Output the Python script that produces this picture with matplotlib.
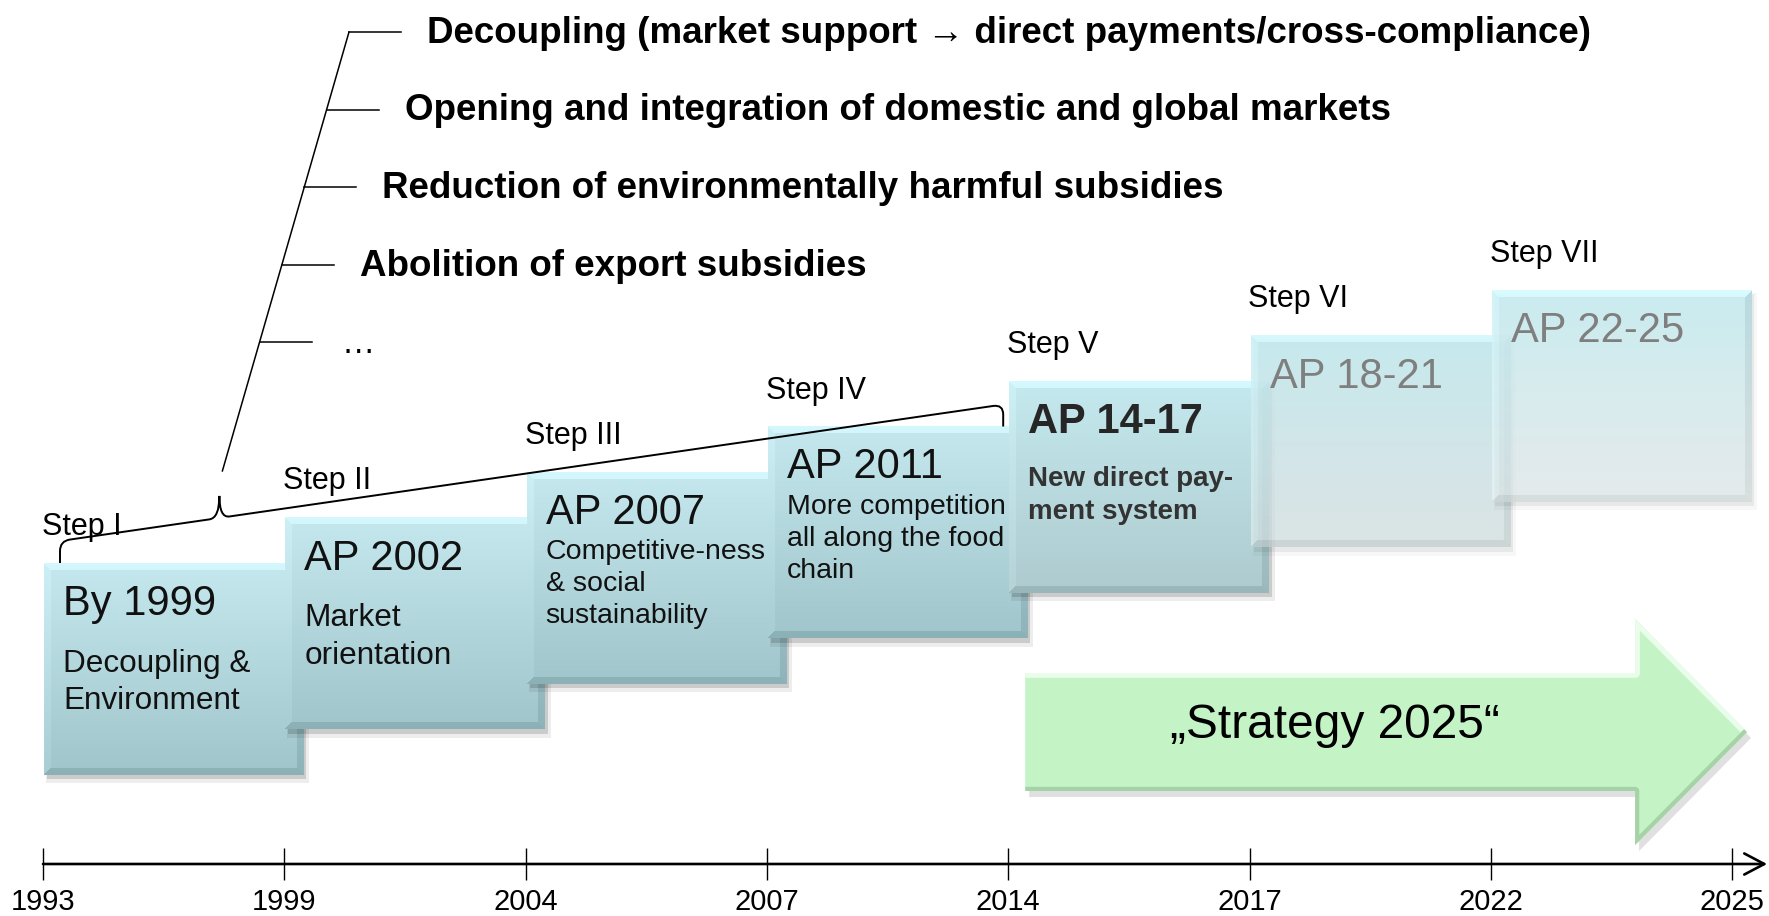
import numpy as np
import matplotlib.pyplot as plt
from matplotlib.patches import Polygon, Rectangle, PathPatch
from matplotlib.path import Path
from matplotlib.colors import to_rgb

plt.rcParams['font.family'] = ['Liberation Sans', 'DejaVu Sans']

# ---- content -------------------------------------------------------------
years = ["1993", "1999", "2004", "2007", "2014", "2017", "2022", "2025"]
steps = ["Step I", "Step II", "Step III", "Step IV", "Step V", "Step VI", "Step VII"]
titles = ["By 1999", "AP 2002", "AP 2007", "AP 2011", "AP 14-17", "AP 18-21", "AP 22-25"]
descriptions = [
    ["Decoupling &", "Environment"],
    ["Market", "orientation"],
    ["Competitive-ness", "& social", "sustainability"],
    ["More competition", "all along the food", "chain"],
    ["New direct pay-", "ment system"],
    [],
    [],
]
goals = [
    "Decoupling (market support \u2192 direct payments/cross-compliance)",
    "Opening and integration of domestic and global markets",
    "Reduction of environmentally harmful subsidies",
    "Abolition of export subsidies",
    "\u2026",
]
strategy_label = "\u201eStrategy 2025\u201c"

# ---- layout (pixels, y grows downward) ------------------------------------
W, H = 1769, 916
AXIS_Y = 864
X0, DX = 43, 241.3
BOX_W, BOX_H = DX + 18, 212
TOP0, RISE = 563, 45.5

fig = plt.figure(figsize=(W / 100, H / 100), dpi=100)
ax = fig.add_axes([0, 0, 1, 1])

xt = X0 + DX * np.arange(len(years))
n_box = len(titles)
box_left = xt[:n_box] + 1
box_top = TOP0 - RISE * np.arange(n_box)

# box colours: (top, bottom, alpha top, alpha bottom)
box_fill = [("#c4e8ee", "#a0c5cb", 1, 1)] * 4 + [
    ("#c4e9ee", "#aecbcf", 1, 1),
    ("#c3e9ee", "#d6e3e5", 0.92, 0.72),
    ("#c6ecf1", "#e3edee", 0.92, 0.68),
]
title_col = ["#111111"] * 4 + ["#262626", "#7f7f7f", "#7f7f7f"]
# (fontsize, first baseline below top, line spacing, weight, colour)
desc_style = [
    (22.7, 109, 37, "normal", "#111111"),
    (22.7, 109, 37, "normal", "#111111"),
    (20.5, 87, 32, "normal", "#111111"),
    (20.5, 87, 32, "normal", "#111111"),
    (20, 105, 33, "bold", "#333333"),
    (20, 105, 33, "normal", "#333333"),
    (20, 105, 33, "normal", "#333333"),
]


def box_image(h, w, c_top, c_bot, a_top, a_bot, bevel=7):
    h, w = int(round(h)), int(round(w))
    t = np.linspace(0, 1, h)[:, None]
    rgb = (1 - t)[..., None] * np.array(to_rgb(c_top)) + t[..., None] * np.array(to_rgb(c_bot))
    rgb = np.repeat(rgb, w, axis=1)
    alpha = ((1 - t) * a_top + t * a_bot) * np.ones((1, w))
    r = np.arange(h)[:, None] * np.ones((1, w))
    c = np.ones((h, 1)) * np.arange(w)[None, :]
    d = np.stack([r, h - 1 - r, c, w - 1 - c])
    nearest = d.argmin(0)
    shade = np.array([0.06, -0.08, 0.03, -0.07])[nearest] * (d.min(0) < bevel)
    rgb = np.clip(rgb + shade[..., None], 0, 1)
    return np.dstack([rgb, alpha])


for i in range(n_box):
    l, t = box_left[i], box_top[i]
    z = 3 + 2 * i
    c_top, c_bot, a_top, a_bot = box_fill[i]
    sh = 0.14 if a_bot == 1 else 0.06
    ax.add_patch(Rectangle((l + 2, t + 3), BOX_W + 4, BOX_H + 5, fc="black", ec="none",
                           alpha=sh * 0.5, zorder=z - 0.6))
    ax.add_patch(Rectangle((l + 3, t + 4), BOX_W, BOX_H, fc="black", ec="none",
                           alpha=sh, zorder=z - 0.5))
    ax.imshow(box_image(BOX_H, BOX_W, c_top, c_bot, a_top, a_bot),
              extent=(l, l + BOX_W, t + BOX_H, t), origin="upper",
              interpolation="bilinear", aspect="auto", zorder=z)
    ax.text(l + 19, t + 52, titles[i], fontsize=30, color=title_col[i],
            fontweight="bold" if i == 4 else "normal", va="baseline", zorder=z + 1)
    fs, off, sp, wt, col = desc_style[i]
    for k, line in enumerate(descriptions[i]):
        ax.text(l + 19, t + off + sp * k, line, fontsize=fs, fontweight=wt, color=col,
                va="baseline", zorder=z + 1)
    ax.text(l - 2, t - 28, steps[i], fontsize=22, color="black", va="baseline", zorder=z + 1)

# ---- brace over steps I-IV ------------------------------------------------
p0 = (box_left[0] + 16, box_top[0])
p1 = (box_left[3] + BOX_W - 24, box_top[3])
L = p1[0] - p0[0]
slope = (p1[1] - p0[1]) / L
bh, br, cusp = 22, 10, 0.169 * L


def P(u, v):
    return (p0[0] + u, p0[1] + slope * u - v)


verts = [P(0, 0), P(0, bh - br), P(0, bh), P(br, bh), P(cusp - br, bh),
         P(cusp, bh), P(cusp, 2 * bh), P(cusp, bh), P(cusp + br, bh),
         P(L - br, bh), P(L, bh), P(L, bh - br), P(L, 0)]
codes = [Path.MOVETO, Path.LINETO, Path.CURVE3, Path.CURVE3, Path.LINETO,
         Path.CURVE3, Path.CURVE3, Path.CURVE3, Path.CURVE3,
         Path.LINETO, Path.CURVE3, Path.CURVE3, Path.LINETO]
ax.add_patch(PathPatch(Path(verts, codes), fc="none", ec="black", lw=1.4, zorder=20))

# ---- goals bracket ----------------------------------------------------------
cx, cy = P(cusp, 2 * bh)
bot = (cx + 3, cy - 25)
top = (349, 32)
GOAL_DY, TICK_LEN = 77.5, 52
ax.plot([bot[0], top[0]], [bot[1], top[1]], color="black", lw=1.1, zorder=20)
for k, goal in enumerate(goals):
    gy = top[1] + GOAL_DY * k
    gx = bot[0] + (top[0] - bot[0]) * (bot[1] - gy) / (bot[1] - top[1])
    ax.plot([gx, gx + TICK_LEN], [gy, gy], color="black", lw=1.1, zorder=20)
    is_more = goal == "\u2026"
    ax.text(gx + TICK_LEN + (30 if is_more else 26), gy + 11, goal,
            fontsize=24 if is_more else 26.5,
            fontweight="normal" if is_more else "bold",
            color="black", va="baseline", zorder=20)

# ---- "Strategy 2025" arrow ---------------------------------------------------
a_start, a_tip = xt[4] + 17, xt[7] + 15
a_cy, body_half, head_half, head_len = 732, 59, 113, 112
hb = a_tip - head_len
arrow_xy = [(a_start, a_cy - body_half), (hb, a_cy - body_half), (hb, a_cy - head_half),
            (a_tip, a_cy), (hb, a_cy + head_half), (hb, a_cy + body_half),
            (a_start, a_cy + body_half)]
ax.add_patch(Polygon([(x + 4, y + 6) for x, y in arrow_xy], closed=True, fc="black",
                     ec="none", alpha=0.12, zorder=1))
green = Polygon(arrow_xy, closed=True, fc="#c4f4c6", ec="none", zorder=2)
ax.add_patch(green)
hl, = ax.plot([a_start, hb, hb, a_tip], [a_cy - body_half, a_cy - body_half,
                                          a_cy - head_half, a_cy],
              color="#eafcea", lw=7, zorder=2.1, solid_capstyle="butt")
hl.set_clip_path(green)
dk, = ax.plot([a_start, hb, hb, a_tip], [a_cy + body_half, a_cy + body_half,
                                          a_cy + head_half, a_cy],
              color="#a6d2a8", lw=6, zorder=2.1, solid_capstyle="butt")
dk.set_clip_path(green)
ax.text((a_start + hb) / 2 + 5, a_cy - 6, strategy_label, fontsize=34.5, color="black",
        ha="center", va="center", zorder=3)

# ---- timeline ----------------------------------------------------------------
ax.annotate("", xy=(xt[-1] + 35, AXIS_Y), xytext=(xt[0], AXIS_Y),
            arrowprops=dict(arrowstyle="->,head_length=0.72,head_width=0.38",
                            mutation_scale=20, lw=1.9, color="black",
                            shrinkA=0, shrinkB=0), zorder=20)
ax.set_xticks(xt, years)
ax.set_yticks([])
for s in ["left", "top", "right"]:
    ax.spines[s].set_visible(False)
ax.spines["bottom"].set_position(("data", AXIS_Y))
ax.spines["bottom"].set_visible(False)
ax.tick_params(axis="x", direction="inout", length=23, width=1.0, pad=6,
               labelsize=21, colors="black")

ax.set_xlim(0, W)
ax.set_ylim(H, 0)
fig.savefig("out.png", dpi=100)
